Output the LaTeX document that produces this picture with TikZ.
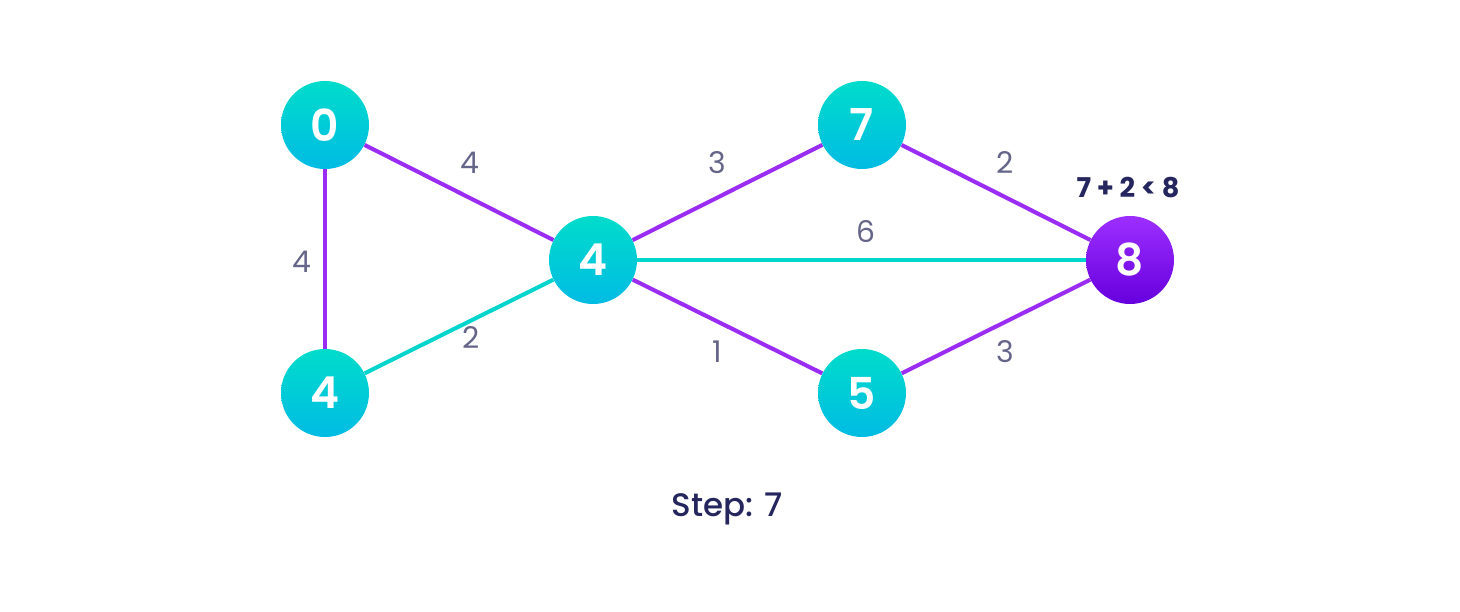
\documentclass[tikz,border=0pt]{standalone}
\usepackage{fontspec}
\setmainfont{Poppins}
\newfontfamily\medfont{Poppins Medium}
\newfontfamily\semifont{Poppins SemiBold}
\definecolor{tealtop}{HTML}{00DCCB}
\definecolor{tealbot}{HTML}{00BBE3}
\definecolor{purptop}{HTML}{9D2EFF}
\definecolor{purpbot}{HTML}{6600DD}
\definecolor{purpline}{HTML}{9A2CF4}
\definecolor{tealline}{HTML}{00D5CD}
\definecolor{labelgray}{HTML}{65658A}
\definecolor{navy}{HTML}{25265E}
\tikzset{
  vertex/.style={circle, minimum size=1.76cm, inner sep=0pt, text=white,
    font=\fontsize{25}{25}\selectfont\semifont, top color=tealtop, bottom color=tealbot},
  target/.style={vertex, top color=purptop, bottom color=purpbot},
  wlabel/.style={text=labelgray, font=\fontsize{17}{17}\selectfont},
  pedge/.style={draw=purpline, line width=2.3pt},
  tedge/.style={draw=tealline, line width=2.3pt}
}
\begin{document}
\begin{tikzpicture}
  \useasboundingbox (0,0) rectangle (29.2,-12.24);

  % Vertices
  \node[vertex] (A) at (6.5,-2.5) {0};
  \node[vertex] (B) at (6.5,-7.86) {4};
  \node[vertex] (C) at (11.86,-5.2) {4};
  \node[vertex] (D) at (17.24,-2.5) {7};
  \node[vertex] (E) at (17.24,-7.86) {5};
  \node[target] (F) at (22.6,-5.2) {8};

  % Edges
  \foreach \u/\v in {A/B, A/C, C/D, C/E, D/F, E/F}
    \draw[pedge] (\u) -- (\v);
  \foreach \u/\v in {B/C, C/F}
    \draw[tedge] (\u) -- (\v);

  % Weights
  \node[wlabel] (wAC) at (9.4,-3.26) {4};
  \node[wlabel] (wAB) at (6.04,-5.24) {4};
  \node[wlabel] (wBC) at (9.42,-6.76) {2};
  \node[wlabel] (wCD) at (14.34,-3.26) {3};
  \node[wlabel] (wCF) at (17.32,-4.64) {6};
  \node[wlabel] (wCE) at (14.34,-7.04) {1};
  \node[wlabel] (wDF) at (20.1,-3.26) {2};
  \node[wlabel] (wEF) at (20.1,-7.04) {3};

  % Relaxation note and step
  \node[text=navy, font=\fontsize{15.5}{15.5}\selectfont\bfseries] (note) at (22.56,-3.76) {7 + 2 < 8};
  \node[text=navy, font=\fontsize{18.5}{18.5}\selectfont\medfont] (step) at (14.54,-10.18) {Step: 7};

\end{tikzpicture}
\end{document}
